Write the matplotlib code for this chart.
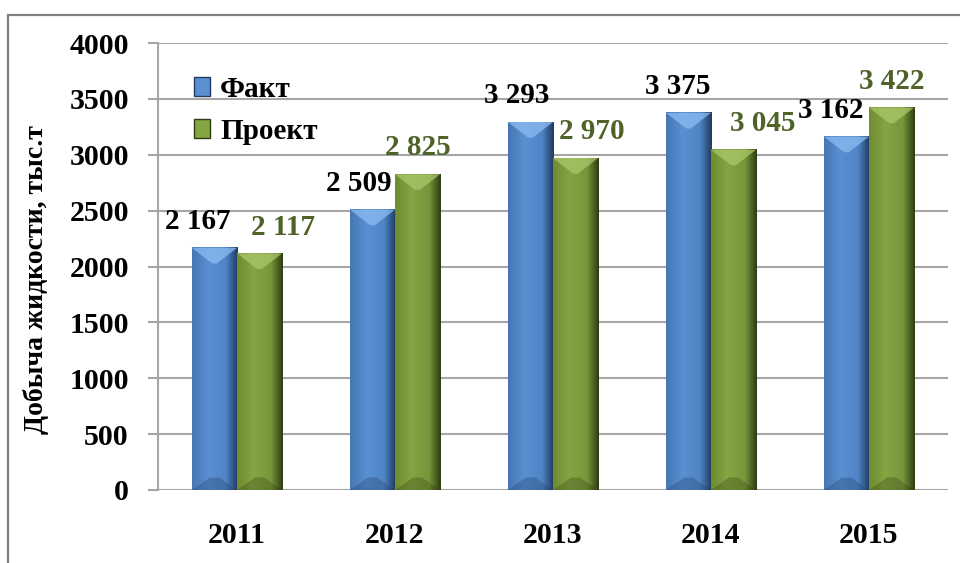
"""
Bar chart: fluid production, fact vs project, 2011-2015.
"""

import numpy as np
import matplotlib
matplotlib.use("Agg")
import matplotlib.pyplot as plt
from matplotlib.colors import LinearSegmentedColormap
from matplotlib.patches import Rectangle, Polygon, Patch

years = ["2011", "2012", "2013", "2014", "2015"]
fact = [2167, 2509, 3293, 3375, 3162]
project = [2117, 2825, 2970, 3045, 3422]
fact_labels = ["2 167", "2 509", "3 293", "3 375", "3 162"]
project_labels = ["2 117", "2 825", "2 970", "3 045", "3 422"]

# horizontal shifts of the value labels, points
fact_dx = [-12, -10, -10, -8, -11]
project_dx = [17, 0, 12, 21, 0]

FONT = "Liberation Serif"
BLUE = ["#4677b4", "#5a8fd2", "#4f84c6", "#203a60"]
GREEN = ["#6e8c30", "#84a542", "#76963a", "#2f3d12"]
BLUE_TOP = "#8dbcf2"
GREEN_TOP = "#a9c86a"
BAR_W = 0.285


def shaded_bar(ax, bar, colors, top_color):
    """Paint a bevelled gradient over a plain bar patch."""
    x0 = bar.get_x()
    w = bar.get_width()
    h = bar.get_height()
    cmap = LinearSegmentedColormap.from_list(
        "b", [(0, colors[0]), (0.35, colors[1]), (0.75, colors[2]), (1, colors[3])])
    grad = np.linspace(0, 1, 64).reshape(1, -1)
    ax.imshow(grad, cmap=cmap, extent=[x0, x0 + w, 0, h], aspect="auto",
              zorder=3, interpolation="bicubic")
    bev = 140
    ax.add_patch(Polygon([[x0, h], [x0 + w, h], [x0 + w * 0.55, h - bev],
                          [x0 + w * 0.45, h - bev]],
                         closed=True, color=top_color, alpha=0.75, zorder=4,
                         lw=0))
    ax.add_patch(Polygon([[x0, 0], [x0 + w, 0], [x0 + w * 0.6, bev * 0.8],
                          [x0 + w * 0.4, bev * 0.8]],
                         closed=True, color=colors[3], alpha=0.3, zorder=4,
                         lw=0))


fig = plt.figure(figsize=(9.6, 5.63), dpi=100)
fig.patches.append(Rectangle((8 / 960, -0.1), 1.1, 1.1 - 15 / 563,
                             transform=fig.transFigure, fill=False,
                             edgecolor="#7f7f7f", lw=1.6, zorder=0))

ax = fig.add_axes([158 / 960, 73 / 563, 790 / 960, 447 / 563])
x = np.arange(len(years))

bars_f = ax.bar(x - BAR_W / 2, fact, BAR_W, color=BLUE[1], zorder=2)
bars_p = ax.bar(x + BAR_W / 2, project, BAR_W, color=GREEN[1], zorder=2)
for b in bars_f:
    shaded_bar(ax, b, BLUE, BLUE_TOP)
for b in bars_p:
    shaded_bar(ax, b, GREEN, GREEN_TOP)

for i in range(len(years)):
    ax.annotate(fact_labels[i], (x[i] - BAR_W / 2, fact[i]),
                xytext=(fact_dx[i], 19), textcoords="offset points",
                ha="center", va="center", fontsize=21, fontweight="bold",
                family=FONT, color="black", zorder=6)
    ax.annotate(project_labels[i], (x[i] + BAR_W / 2, project[i]),
                xytext=(project_dx[i], 19), textcoords="offset points",
                ha="center", va="center", fontsize=21, fontweight="bold",
                family=FONT, color="#4f6228", zorder=6)

ax.set_xlim(-0.5, len(years) - 0.5)
ax.set_ylim(0, 4000)
ax.set_yticks(range(0, 4001, 500))
ax.set_xticks(x)
ax.set_xticklabels(years)
ax.yaxis.grid(True, color="#a6a6a6", lw=1.5, zorder=0)
ax.set_axisbelow(True)
for s in ["top", "right", "bottom"]:
    ax.spines[s].set_visible(False)
ax.spines["left"].set_color("#a6a6a6")
ax.spines["left"].set_linewidth(1.5)
ax.tick_params(axis="y", length=7, width=1.5, color="#a6a6a6", pad=14)
ax.tick_params(axis="x", length=0, pad=23)
for lab in ax.get_xticklabels() + ax.get_yticklabels():
    lab.set_family(FONT)
    lab.set_fontweight("bold")
    lab.set_fontsize(21.5)

ax.set_ylabel("Добыча жидкости, тыс.т", family=FONT, fontweight="bold",
              fontsize=20)
ax.yaxis.set_label_coords(-0.138, 0.47)

handles = [Patch(facecolor=BLUE[1], edgecolor=BLUE[3], lw=1, label="Факт"),
           Patch(facecolor=GREEN[1], edgecolor=GREEN[3], lw=1, label="Проект")]
ax.legend(handles=handles, loc="upper left", bbox_to_anchor=(0.012, 0.985),
          frameon=False, handlelength=0.55, handleheight=0.6,
          handletextpad=0.35, labelspacing=0.5,
          prop={"family": FONT, "weight": "bold", "size": 21})

fig.savefig("out.png", dpi=100)
